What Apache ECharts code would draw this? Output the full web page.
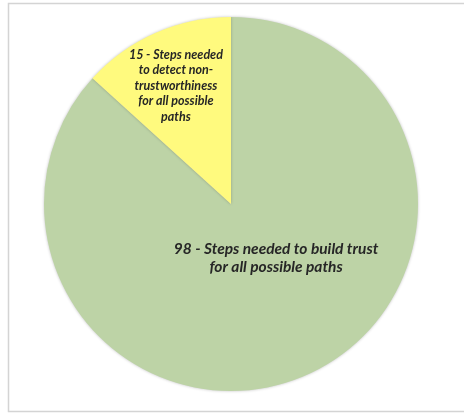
<!DOCTYPE html>
<html>
<head>
<meta charset="utf-8">
<script src="https://cdn.jsdelivr.net/npm/echarts@6/dist/echarts.min.js"></script>
<style>
  html, body { margin: 0; padding: 0; background: #fff; }
  #chart { width: 464px; height: 414px; }
</style>
</head>
<body>
<div id="chart"></div>
<script>
// slice data
const sliceNames = [
  "98 - Steps needed to build trust\nfor all possible paths",
  "15 - Steps needed\nto detect non-\ntrustworthiness\nfor all possible\npaths",
];
const sliceValues = [98, 15];
const sliceColors = ["#BDD3A6", "#FFFA7E"];

const chart = echarts.init(document.getElementById("chart"));

const labelStyles = [
  { fontSize: 15.5, lineHeight: 18, offset: [6, -34] },
  { fontSize: 12.5, lineHeight: 15.5, offset: [-16, -30] },
];

chart.setOption({
  animation: false,
  graphic: [
    {
      type: "rect",
      shape: { x: 8.5, y: 3.5, width: 470, height: 408 },
      style: { fill: "none", stroke: "#D4D4D4", lineWidth: 1.5 },
      silent: true,
    },
  ],
  series: [
    {
      type: "pie",
      center: [231, 204],
      radius: [0, 187],
      startAngle: 90,
      clockwise: true,
      label: {
        show: true,
        position: "inside",
        color: "#262626",
        fontFamily: "Lato",
        fontWeight: "bold",
        fontStyle: "italic",
        formatter: "{b}",
      },
      labelLine: { show: false },
      itemStyle: {
        borderWidth: 0,
        shadowColor: "rgba(0,0,0,0.25)",
        shadowBlur: 3,
      },
      emphasis: { disabled: true },
      data: sliceValues.map((v, i) => ({
        value: v,
        name: sliceNames[i],
        itemStyle: { color: sliceColors[i] },
        label: labelStyles[i],
      })),
    },
  ],
});
</script>
</body>
</html>
